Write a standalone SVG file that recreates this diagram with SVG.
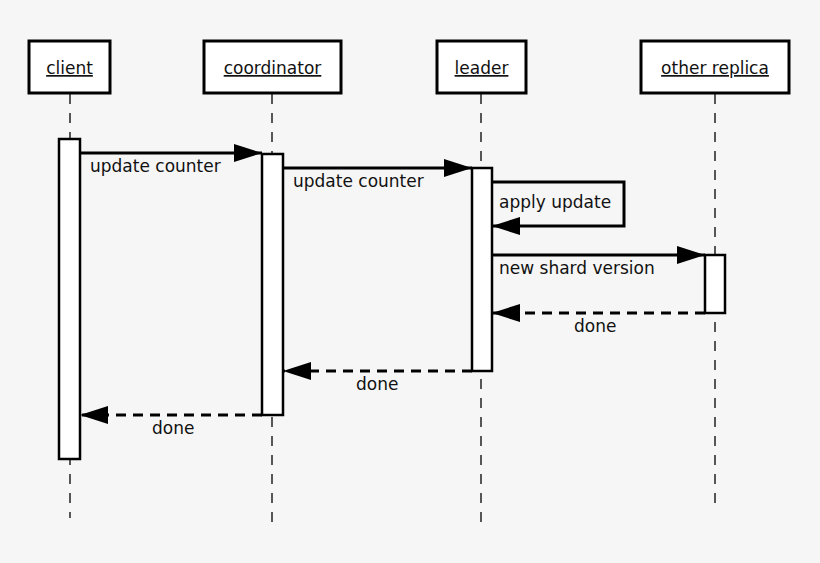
<svg xmlns="http://www.w3.org/2000/svg" width="820" height="563" viewBox="0 0 820 563">
<defs>
<style>
text{font-family:"DejaVu Sans",sans-serif;font-size:17px;fill:#111}
.box{fill:#fff;stroke:#000;stroke-width:3}
.act{fill:#fff;stroke:#000;stroke-width:2.5}
.life{stroke:#222;stroke-width:1.5;stroke-dasharray:10,9;fill:none}
.msg{stroke:#000;stroke-width:3;fill:none}
.dash{stroke:#000;stroke-width:3;fill:none;stroke-dasharray:10,7}
</style>
<marker id="ah" markerWidth="28" markerHeight="18" refX="28" refY="9" orient="auto" markerUnits="userSpaceOnUse"><path d="M0,0L28,9L0,18Z" fill="#000"/></marker>
</defs>
<rect width="820" height="563" fill="#f6f6f6"/>
<g id="lifelines">
<path class="life" d="M70,94V518M272,94V522M481,94V522M715,94V512"/>
</g>
<g id="client"><rect class="box" x="29" y="41" width="81" height="52"/><text x="69.5" y="74" text-anchor="middle" text-decoration="underline">client</text><rect class="act" x="59" y="139" width="21" height="320"/></g>
<g id="coordinator"><rect class="box" x="204" y="41" width="137" height="52"/><text x="272.5" y="74" text-anchor="middle" text-decoration="underline">coordinator</text><rect class="act" x="262" y="154" width="21" height="261"/></g>
<g id="leader"><rect class="box" x="437" y="41" width="89" height="52"/><text x="481.5" y="74" text-anchor="middle" text-decoration="underline">leader</text><rect class="act" x="472" y="168" width="20" height="203"/></g>
<g id="other_replica"><rect class="box" x="641" y="41" width="148" height="52"/><text x="715" y="74" text-anchor="middle" text-decoration="underline">other replica</text><rect class="act" x="705" y="255" width="20" height="58"/></g>
<g id="connectors">
<path class="msg" d="M80,153H262" marker-end="url(#ah)"/>
<path class="msg" d="M283,168H472" marker-end="url(#ah)"/>
<path class="msg" d="M492,182H624V226H492" marker-end="url(#ah)"/>
<path class="msg" d="M492,255H705" marker-end="url(#ah)"/>
<path class="dash" d="M705,313H492" marker-end="url(#ah)"/>
<path class="dash" d="M472,371H283" marker-end="url(#ah)"/>
<path class="dash" d="M262,415H80" marker-end="url(#ah)"/>
</g>
<g id="labels">
<text x="90" y="172">update counter</text>
<text x="293" y="187">update counter</text>
<text x="499" y="208">apply update</text>
<text x="499" y="274">new shard version</text>
<text x="574" y="332">done</text>
<text x="356" y="390">done</text>
<text x="152" y="434">done</text>
</g>
</svg>
